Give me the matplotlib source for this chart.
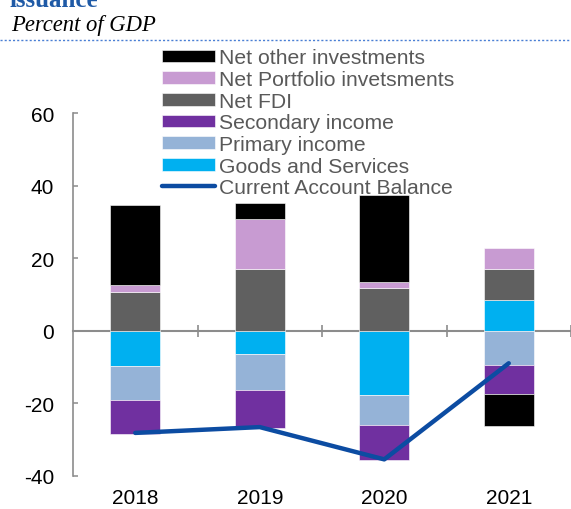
import matplotlib
matplotlib.use("Agg")
import matplotlib.pyplot as plt
import numpy as np
from matplotlib.lines import Line2D

years = ["2018", "2019", "2020", "2021"]
goods_services = [-9.85, -6.35, -17.75, 8.55]
primary_income = [-9.4, -10.1, -8.3, -9.4]
secondary_income = [-9.2, -10.3, -9.5, -8.2]
net_fdi = [10.6, 17.0, 11.7, 8.45]
net_portfolio = [2.1, 13.8, 1.8, 5.9]
net_other = [21.8, 4.4, 23.9, -8.8]
current_account = [-28.2, -26.6, -35.5, -9.0]
yticks = [-40, -20, 0, 20, 40, 60]

series = [
    ("Goods and Services", goods_services, "#00B0F0"),
    ("Primary income", primary_income, "#95B3D7"),
    ("Secondary income", secondary_income, "#7030A0"),
    ("Net FDI", net_fdi, "#606060"),
    ("Net Portfolio invetsments", net_portfolio, "#C89BD2"),
    ("Net other investments", net_other, "#000000"),
]
line_color = "#0C4CA2"
gray = "#8C8C8C"

plt.rcParams['font.family'] = ['Liberation Sans', 'DejaVu Sans']
plt.rcParams['axes.unicode_minus'] = False

fig = plt.figure(figsize=(5.71, 5.10), dpi=100)
W, H = 571, 510
ax = fig.add_axes([73 / W, (H - 476.7) / H, (571 - 73) / W, (476.7 - 114) / H])

x = np.arange(len(years))
pos = np.zeros(len(years))
neg = np.zeros(len(years))
handles = {}
for name, vals, col in series:
    v = np.array(vals, dtype=float)
    bottom = np.where(v >= 0, pos, neg)
    b = ax.bar(x, v, width=0.4, bottom=bottom, color=col, edgecolor="white",
               linewidth=0.4, label=name, zorder=2)
    handles[name] = b
    pos = pos + np.where(v >= 0, v, 0)
    neg = neg + np.where(v < 0, v, 0)

ln, = ax.plot(x, current_account, color=line_color, linewidth=3.2,
              solid_capstyle="round", zorder=3, label="Current Account Balance")

ax.set_xlim(-0.5, 3.5)
ax.set_ylim(-40, 60)
ax.set_yticks(yticks)
ax.tick_params(axis="y", direction="in", length=3.6, width=1.1, color=gray,
               labelsize=15, pad=13.5, labelcolor="black")

for s in ["top", "right"]:
    ax.spines[s].set_visible(False)
ax.spines["left"].set_color(gray)
ax.spines["left"].set_linewidth(1.2)
ax.spines["bottom"].set_position(("data", 0))
ax.spines["bottom"].set_color(gray)
ax.spines["bottom"].set_linewidth(1.5)
ax.spines["bottom"].set_zorder(1)
ax.set_xticks(np.arange(len(years)) + 0.5)
ax.set_xticklabels([])
ax.tick_params(axis="x", direction="inout", length=8.6, width=1.2, color=gray)

sec = ax.secondary_xaxis("bottom")
sec.set_xticks(x, labels=years)
sec.tick_params(length=0, labelsize=15, pad=9)
sec.spines["bottom"].set_visible(False)

order = ["Net other investments", "Net Portfolio invetsments", "Net FDI",
         "Secondary income", "Primary income", "Goods and Services"]
hs = [handles[n] for n in order] + [ln]
ls = order + ["Current Account Balance"]
leg = fig.legend(hs, ls, loc="upper left", bbox_to_anchor=(162 / W, 1 - 49.5 / H),
                 frameon=False, fontsize=15.2, handlelength=2.5, handleheight=0.55,
                 handletextpad=0.2, labelspacing=0.125, borderpad=0, borderaxespad=0)
for t in leg.get_texts():
    t.set_color("#595959")

fig.text(10 / W, 1 - 7 / H, "issuance", color="#1F5AA6", fontsize=18,
         fontweight="bold", family="Liberation Serif", va="baseline")
fig.text(11 / W, 1 - 31 / H, "Percent of GDP", color="black", fontsize=16.3,
         style="italic", family="Liberation Serif", va="baseline")
fig.add_artist(Line2D([0, 1], [1 - 41 / H, 1 - 41 / H], transform=fig.transFigure,
                      color="#4A7FD4", linewidth=1, linestyle=(0, (1.5, 1.5))))

fig.savefig("out.png", dpi=100)
